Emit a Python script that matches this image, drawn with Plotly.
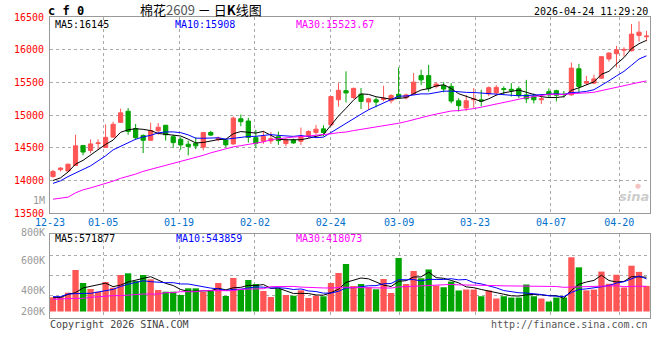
import numpy as np
import plotly.graph_objects as go

# ---------------- data ----------------
dates = ["12-23", "12-24", "12-25", "12-26", "12-29", "12-30", "12-31",
         "01-05", "01-06", "01-07", "01-08", "01-09", "01-12", "01-13", "01-14", "01-15", "01-16",
         "01-19", "01-20", "01-21", "01-22", "01-23", "01-26", "01-27", "01-28", "01-29", "01-30",
         "02-02", "02-03", "02-04", "02-05", "02-06", "02-09", "02-10", "02-11", "02-12", "02-13",
         "02-24", "02-25", "02-26", "02-27", "03-02", "03-03", "03-04", "03-05", "03-06",
         "03-09", "03-10", "03-11", "03-12", "03-13", "03-16", "03-17", "03-18", "03-19", "03-20",
         "03-23", "03-24", "03-25", "03-26", "03-27", "03-30", "03-31", "04-01", "04-02", "04-03",
         "04-07", "04-08", "04-09", "04-10", "04-13", "04-14", "04-15", "04-16", "04-17",
         "04-20", "04-21", "04-22", "04-23", "04-24"]

opens = [14060, 14165, 14145, 14230, 14535, 14460, 14565, 14505, 14665, 14890,
         15060, 14795, 14690, 14615, 14760, 14845, 14670, 14630, 14555, 14570,
         14510, 14735, 14625, 14620, 14560, 14945, 14910, 14655, 14600, 14605,
         14670, 14565, 14620, 14600, 14675, 14735, 14790, 14850, 15235, 15375,
         15270, 15320, 15200, 15235, 15240, 15220, 15320, 15265, 15325, 15605,
         15605, 15440, 15455, 15440, 15220, 15110, 15235, 15235, 15325, 15340,
         15405, 15395, 15405, 15310, 15285, 15235, 15360, 15375, 15320, 15310,
         15710, 15490, 15490, 15565, 15860, 15940, 15995, 15985, 16220, 16200]
highs = [14163, 14205, 14255, 14700, 14545, 14630, 14630, 14860, 14900, 15100,
         15110, 14865, 14705, 14885, 14880, 14850, 14700, 14660, 14610, 14660,
         14740, 14760, 14670, 14640, 14980, 15010, 14960, 14775, 14760, 14745,
         14750, 14650, 14640, 14810, 14770, 14850, 14845, 15290, 15490, 15670,
         15420, 15415, 15265, 15270, 15450, 15320, 15730, 15330, 15645, 15695,
         15770, 15505, 15505, 15490, 15260, 15310, 15415, 15390, 15440, 15460,
         15440, 15490, 15440, 15540, 15330, 15310, 15410, 15390, 15370, 15805,
         15785, 15600, 15620, 15905, 15960, 16060, 16040, 16395, 16435, 16290]
lows = [14045, 14140, 14140, 14220, 14385, 14420, 14470, 14500, 14650, 14880,
        14700, 14620, 14420, 14610, 14700, 14610, 14500, 14470, 14385, 14480,
        14460, 14680, 14600, 14510, 14545, 14830, 14580, 14495, 14560, 14560,
        14545, 14525, 14560, 14545, 14650, 14700, 14675, 14830, 15130, 15195,
        15250, 15095, 15080, 15120, 15210, 15180, 15250, 15240, 15310, 15460,
        15360, 15410, 15350, 15180, 15055, 15065, 15110, 15135, 15290, 15300,
        15310, 15285, 15260, 15185, 15180, 15170, 15270, 15210, 15270, 15300,
        15335, 15460, 15480, 15555, 15820, 15730, 15895, 15975, 16125, 16130]
closes = [14137, 14190, 14250, 14530, 14435, 14560, 14575, 14660, 14860, 15035,
          14750, 14655, 14615, 14765, 14815, 14700, 14580, 14545, 14520, 14530,
          14735, 14695, 14650, 14545, 14955, 14900, 14660, 14570, 14675, 14640,
          14610, 14620, 14575, 14675, 14750, 14785, 14735, 15285, 15380, 15340,
          15410, 15210, 15250, 15200, 15260, 15300, 15270, 15310, 15505, 15540,
          15405, 15475, 15400, 15215, 15145, 15220, 15250, 15215, 15420, 15425,
          15395, 15380, 15300, 15250, 15235, 15250, 15310, 15305, 15315, 15720,
          15440, 15515, 15555, 15895, 15950, 16000, 16005, 16240, 16270, 16210]
volumes_k = [236, 246, 313, 691, 475, 375, 330, 491, 396, 608,
             636, 508, 608, 536, 358, 330, 330, 275, 386, 386,
             325, 358, 475, 258, 558, 363, 524, 458, 341, 241,
             380, 275, 263, 353, 225, 263, 253, 475, 641, 791,
             425, 458, 403, 370, 541, 308, 891, 458, 674, 553,
             700, 432, 404, 498, 350, 366, 366, 254, 350, 216,
             254, 232, 232, 450, 254, 216, 166, 232, 232, 903,
             735, 352, 365, 665, 462, 612, 400, 762, 660, 426]

# moving-average values before enough history is on the chart
ma5_head = [14000, 14040, 14130, 14250]
ma10_head = [13956, 13995, 14060, 14117, 14170, 14224, 14300, 14377, 14469]
ma30_head = [13714, 13727, 13745, 13811, 13857, 13887, 13918, 13949, 13990, 14033,
             14060, 14098, 14140, 14170, 14201, 14236, 14262, 14293, 14320, 14351,
             14385, 14423, 14454, 14489, 14515, 14533, 14553, 14571, 14591]
vol_ma5_head = [230, 232, 286, 314]
vol_ma10_head = [247, 247, 291, 302, 302, 302, 325, 347, 369]
vol_ma30_head = [203, 203, 214, 219, 219, 236, 247, 247, 264, 264,
                 275, 291, 291, 291, 291, 314, 314, 330, 330, 330,
                 347, 347, 347, 347, 347, 369, 369, 369, 380]

date_ticks = ["12-23", "01-05", "01-19", "02-02", "02-24", "03-09", "03-23", "04-07", "04-20"]
price_ticks = [13500, 14000, 14500, 15000, 15500, 16000, 16500]
vol_tick_labels = ["800K", "600K", "400K", "200K"]

title_code = "c f 0"
title_main = "棉花<span style='color:#555555'>2609</span> － 日<b>K</b>线图"
timestamp = "2026-04-24 11:29:20"
price_ma_labels = ["MA5:16145", "MA10:15908", "MA30:15523.67"]
vol_ma_labels = ["MA5:571877", "MA10:543859", "MA30:418073"]

# ---------------- helpers ----------------
def moving_avg(vals, n, head):
    out = list(head)
    for i in range(len(head), len(vals)):
        out.append(float(np.mean(vals[i - n + 1:i + 1])))
    return out

x = list(range(len(dates)))
volumes = [v * 1000 for v in volumes_k]
ma5 = moving_avg(closes, 5, ma5_head)
ma10 = moving_avg(closes, 10, ma10_head)
ma30 = moving_avg(closes, 30, ma30_head)
vma5 = moving_avg(volumes, 5, [v * 1000 for v in vol_ma5_head])
vma10 = moving_avg(volumes, 10, [v * 1000 for v in vol_ma10_head])
vma30 = moving_avg(volumes, 30, [v * 1000 for v in vol_ma30_head])

RED = "#ff5555"
GREEN = "#00a400"
MONO = "DejaVu Sans Mono"
GRID = "#aaaaaa"
BORDER = "#999999"

bar_colors = [RED if c >= o else GREEN for o, c in zip(opens, closes)]

fig = go.Figure()
fig.add_trace(go.Candlestick(
    x=x, open=opens, high=highs, low=lows, close=closes,
    increasing=dict(line=dict(color=RED, width=1), fillcolor=RED),
    decreasing=dict(line=dict(color=GREEN, width=1), fillcolor=GREEN),
    whiskerwidth=0, xaxis="x", yaxis="y", showlegend=False))
for series, col in [(ma5, "#000000"), (ma10, "#0000ff"), (ma30, "#ff00ff")]:
    fig.add_trace(go.Scatter(x=x, y=series, mode="lines", line=dict(color=col, width=1),
                             xaxis="x", yaxis="y", showlegend=False, hoverinfo="skip"))

fig.add_trace(go.Bar(x=x, y=volumes, marker=dict(color=bar_colors, line=dict(width=0)),
                     xaxis="x2", yaxis="y2", showlegend=False))
for series, col in [(vma5, "#000000"), (vma10, "#0000ff"), (vma30, "#ff00ff")]:
    fig.add_trace(go.Scatter(x=x, y=series, mode="lines", line=dict(color=col, width=1),
                             xaxis="x2", yaxis="y2", showlegend=False, hoverinfo="skip"))

# layout geometry (pixels)
L, R, T, B = 50, 650, 17, 318
PW, PH = R - L, B - T
step_px = 7.513            # candle spacing
grid_step_px = 7.59        # spacing used for date grid lines
x0 = -3.0 / step_px
x1 = x0 + PW / step_px
tick_idx = [dates.index(d) for d in date_ticks]
tick_pos = [x0 + k * grid_step_px / step_px for k in tick_idx]

main_bottom_px = 213.3
vol_top_px = 234.3
vol_per_px = 16650
vol_zero_px = 311.5
vol_range = [-(B - vol_zero_px) * vol_per_px, (vol_zero_px - vol_top_px) * vol_per_px]
vol_grid = [(vol_zero_px - p) * vol_per_px for p in (295.3, 275.3, 255.3)]

xcommon = dict(range=[x0, x1], showgrid=True, gridcolor=GRID, griddash="dot", gridwidth=1,
               tickmode="array", tickvals=tick_pos, ticks="", zeroline=False,
               showline=True, mirror=True, linecolor=BORDER, linewidth=1)

fig.update_layout(
    width=660, height=360,
    margin=dict(l=L, r=660 - R, t=T, b=360 - B, pad=0),
    paper_bgcolor="white", plot_bgcolor="white",
    font=dict(family=MONO, size=10, color="#000"),
    showlegend=False, bargap=0.16, boxgap=0.2,
    xaxis=dict(**xcommon, domain=[0, 1], anchor="y", ticktext=date_ticks,
               tickfont=dict(color="#0070cc", size=10, family=MONO),
               rangeslider=dict(visible=False)),
    xaxis2=dict(**xcommon, domain=[0, 1], anchor="y2", matches="x", showticklabels=False),
    yaxis=dict(domain=[(B - main_bottom_px) / PH, 1], range=[13498, 16502],
               tickmode="array", tickvals=price_ticks, ticktext=[str(v) for v in price_ticks],
               tickfont=dict(color="#ff0000", size=10, family=MONO), ticks="",
               ticklabelstandoff=3,
               showgrid=True, gridcolor=GRID, griddash="dot", gridwidth=1, zeroline=False,
               showline=True, mirror=True, linecolor=BORDER, linewidth=1),
    yaxis2=dict(domain=[0, (B - vol_top_px) / PH], range=vol_range,
                tickmode="array", tickvals=vol_grid, showticklabels=False, ticks="",
                showgrid=True, gridcolor=GRID, griddash="dot", gridwidth=1, zeroline=False,
                showline=True, mirror=True, linecolor=BORDER, linewidth=1),
    hovermode=False,
)

def ann(text, px, py, xanchor="left", color="#000", size=10, family=MONO):
    return dict(text=text, x=(px - L) / PW, y=(B - py) / PH, xref="paper", yref="paper",
                xanchor=xanchor, yanchor="middle", showarrow=False, borderpad=0,
                font=dict(color=color, size=size, family=family))

anns = [
    ann("<b>" + title_code + "</b>", 47, 11, size=12),
    ann(title_main, 201, 9, xanchor="center", size=13, family="Noto Sans CJK SC"),
    ann(timestamp, 649, 11, xanchor="right"),
    ann(price_ma_labels[0], 54, 24, color="#000000"),
    ann(price_ma_labels[1], 174, 24, color="#0000ff"),
    ann(price_ma_labels[2], 295, 24, color="#ff00ff"),
    ann(vol_ma_labels[0], 54, 239, color="#000000"),
    ann(vol_ma_labels[1], 175, 239, color="#0000ff"),
    ann(vol_ma_labels[2], 295, 239, color="#ff00ff"),
    ann("1M", 46, 200, xanchor="right", color="#999999"),
    ann("Copyright 2026 SINA.COM", 49, 324, color="#444444"),
    ann("http://finance.sina.com.cn", 649, 324, xanchor="right", color="#555555"),
    ann("<b><i>sina</i></b>", 634, 197, xanchor="center", color="rgba(160,160,160,0.55)",
        size=13, family="DejaVu Sans"),
    ann("●", 638, 186, xanchor="center", color="rgba(230,120,120,0.45)", size=7, family="DejaVu Sans"),
]
for lab, py in zip(vol_tick_labels, [232, 260, 290.7, 311]):
    anns.append(ann(lab, 46, py, xanchor="right", color="#999999"))
fig.update_layout(annotations=anns)

fig.write_html("out.html", config={"displayModeBar": False, "staticPlot": True},
               post_script="document.body.style.margin='0px';")
